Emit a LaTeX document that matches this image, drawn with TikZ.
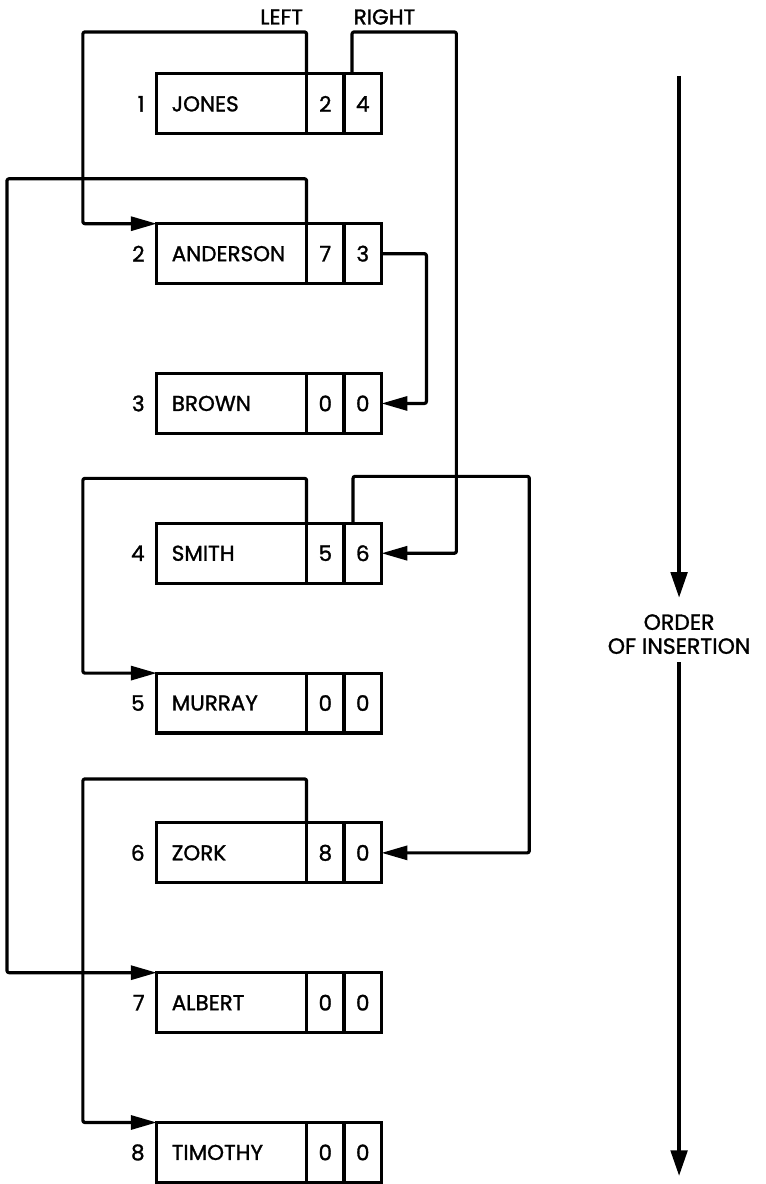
\documentclass[tikz,border=0pt]{standalone}
\usepackage{fontspec}
\setmainfont{Poppins}
\newfontfamily\recfam{Poppins}[FakeBold=1.3]
\usetikzlibrary{arrows.meta}
\newcommand\recfont{\recfam\fontsize{21.5}{24}\selectfont}
\newcommand\ordfont{\recfam\fontsize{22}{24}\selectfont}
\begin{document}
\begin{tikzpicture}[x=1pt,y=1pt,
  rec/.style={draw, line width=3.2pt, outer sep=0pt, minimum height=60pt, anchor=north west, font=\recfont},
  namecell/.style={rec, text width=120pt, inner xsep=15pt, inner ysep=0pt, align=left},
  ptrcell/.style={rec, minimum width=37.5pt, inner sep=0pt},
  rowlbl/.style={anchor=east, inner sep=0pt, font=\recfont},
  link/.style={line width=3.2pt, rounded corners=2pt, line join=round, -{Triangle[length=26pt,width=14pt]}},
  hdr/.style={font=\recfont, inner sep=0pt},
  order/.style={line width=4.8pt, -{Triangle[length=26pt,width=16pt]}},
]
\fill[white] (0,0) rectangle (767,-1184);
% channels
\coordinate (chL) at (83,0);
\coordinate (chFar) at (7,0);
\coordinate (chR1) at (457,0);
\coordinate (chR2) at (427,0);
\coordinate (chR4) at (530,0);
% records
\foreach \i/\nm/\a/\b in {1/JONES/2/4, 2/ANDERSON/7/3, 3/BROWN/0/0, 4/SMITH/5/6, 5/MURRAY/0/0, 6/ZORK/8/0, 7/ALBERT/0/0, 8/TIMOTHY/0/0}{
  \pgfmathsetmacro\yy{-74-150*(\i-1)}
  \node[namecell] (n\i) at (157,\yy) {\nm};
  \node[ptrcell] (l\i) at (n\i.north east) {\a};
  \node[ptrcell] (r\i) at (l\i.north east) {\b};
  \node[rowlbl] (k\i) at ([xshift=-12pt]n\i.west) {\i};
}
% headers
\node[hdr] (hl) at (282,-17) {LEFT};
\node[hdr] (hr) at (385,-17) {RIGHT};
% links
\draw[link] (l1.north west) -- ++(0,42) -| (chL |- n2.north west) -- (n2.north west);
\draw[link] ([xshift=8pt]r1.north west) -- ++(0,42) -| (chR1 |- r4.east) -- (r4.east);
\draw[link] (l2.north west) -- ++(0,45) -| (chFar |- n7.north west) -- (n7.north west);
\draw[link] (r2.east) -| (chR2 |- r3.east) -- (r3.east);
\draw[link] (l4.north west) -- ++(0,45) -| (chL |- n5.north west) -- (n5.north west);
\draw[link] ([xshift=9pt]r4.north west) -- ++(0,47) -| (chR4 |- r6.east) -- (r6.east);
\draw[link] (l6.north west) -- ++(0,44) -| (chL |- n8.north west) -- (n8.north west);
% order of insertion
\coordinate (ordtop) at (680,-76);
\coordinate (ordbot) at (680,-1178);
\node[font=\ordfont, align=center, inner sep=0pt] (ord) at (680,-635) {ORDER\\OF INSERTION};
\draw[order] (ordtop) -- ([yshift=16pt]ord.north);
\draw[order] ([yshift=-8pt]ord.south) -- (ordbot);
\end{tikzpicture}
\end{document}
